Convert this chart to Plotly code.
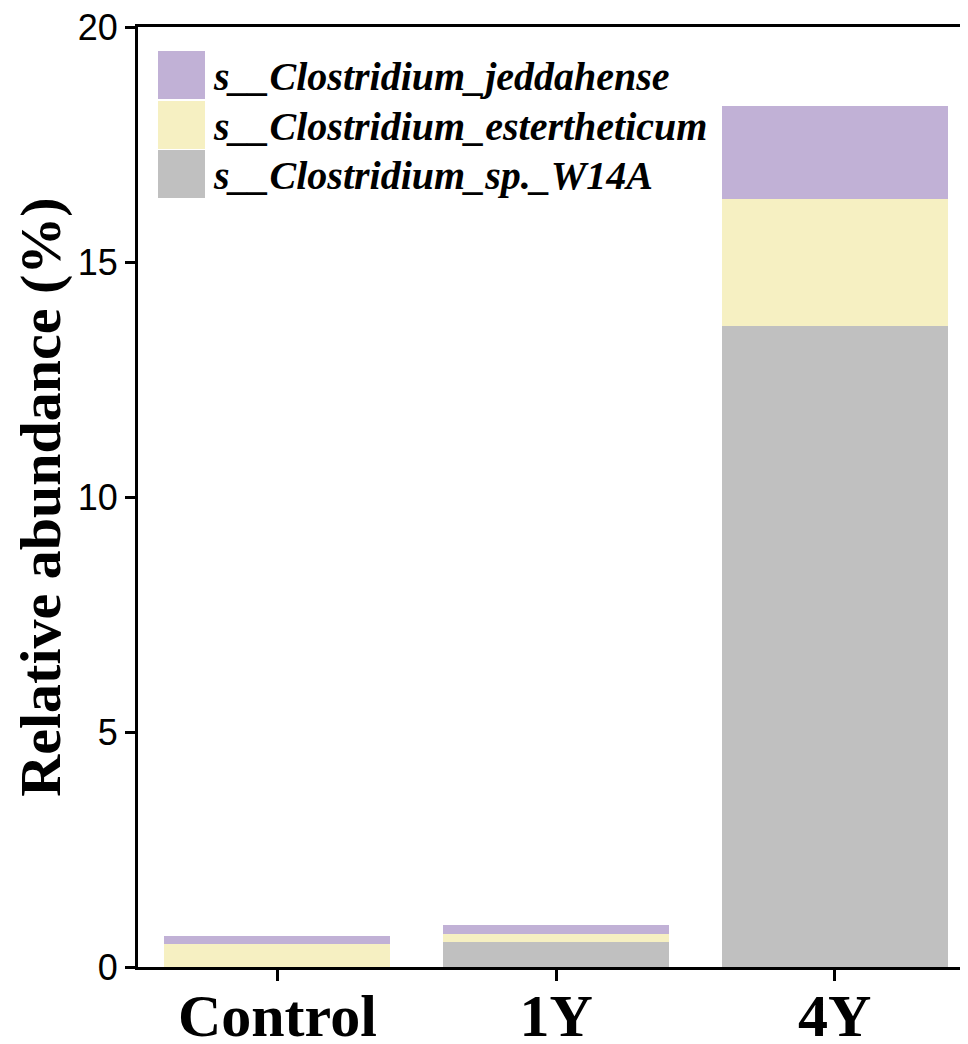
import plotly.graph_objects as go

# ---- data ----
categories = ["Control", "1Y", "4Y"]
species = ["s__Clostridium_jeddahense", "s__Clostridium_estertheticum", "s__Clostridium_sp._W14A"]
sp_w14a = [0.0, 0.54, 13.63]
estertheticum = [0.48, 0.17, 2.71]
jeddahense = [0.17, 0.18, 1.98]
y_ticks = [0, 5, 10, 15, 20]

colors = {
    "s__Clostridium_sp._W14A": "#C0C0C0",
    "s__Clostridium_estertheticum": "#F6F0C2",
    "s__Clostridium_jeddahense": "#C1B1D6",
}

# page body has an 8px margin, so the figure is sized/offset to compensate
OFF = 8
W, H = 968 - OFF, 1044 - OFF
L, R, T, B = 138 - OFF, 0, 27 - OFF, 77

fig = go.Figure()
for name, vals in [("s__Clostridium_sp._W14A", sp_w14a),
                   ("s__Clostridium_estertheticum", estertheticum),
                   ("s__Clostridium_jeddahense", jeddahense)]:
    fig.add_trace(go.Bar(x=categories, y=vals, name=name,
                         marker=dict(color=colors[name], line=dict(width=0)),
                         showlegend=False))

# custom legend (large swatches like the reference); pixel positions in screen coords
pw, ph = W - L - R, H - T - B
def px2x(px):
    return (px - OFF - L) / pw
def px2y(py):
    return (H - B - (py - OFF)) / ph

legend_rows = [(species[0], 75), (species[1], 125), (species[2], 174)]
for name, cy in legend_rows:
    fig.add_shape(type="rect", xref="paper", yref="paper",
                  x0=px2x(158), x1=px2x(205), y0=px2y(cy + 24), y1=px2y(cy - 24),
                  fillcolor=colors[name], line=dict(width=0), layer="above")
    fig.add_annotation(xref="paper", yref="paper", x=px2x(211), y=px2y(cy + 1),
                       xanchor="left", yanchor="middle", showarrow=False,
                       text="<b><i>" + name + "</i></b>",
                       font=dict(family="Liberation Serif", size=40, color="black"))

fig.update_layout(
    width=W, height=H,
    margin=dict(l=L, r=R, t=T, b=B, pad=0, autoexpand=False),
    barmode="stack", bargap=0.19,
    plot_bgcolor="white", paper_bgcolor="white",
    showlegend=False,
)
fig.update_xaxes(
    range=[-0.5, 2.478], showline=True, linecolor="black", linewidth=3, mirror=True,
    ticks="outside", ticklen=11, tickwidth=3, tickcolor="black",
    tickfont=dict(family="Liberation Serif", size=60, color="black", weight="bold"),
    ticklabelstandoff=-17, ticklabeloverflow="allow",
    showgrid=False, zeroline=False, automargin=False,
)
fig.update_yaxes(
    range=[0, 20], tickvals=y_ticks, showline=True, linecolor="black", linewidth=3,
    ticks="outside", ticklen=10, tickwidth=3, tickcolor="black",
    tickfont=dict(family="Liberation Sans", size=36, color="black"),
    ticklabeloverflow="allow",
    showgrid=False, zeroline=False, automargin=False,
    title_text="<b>Relative abundance (%)</b>",
    title_font=dict(family="Liberation Serif", size=58, color="black", weight="bold"),
    title_standoff=8,
)

fig.write_html("out.html")
